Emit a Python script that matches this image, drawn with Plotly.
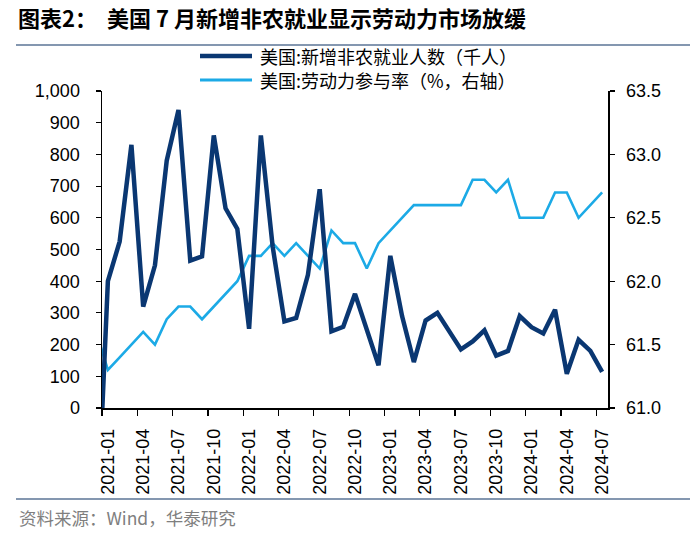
import plotly.graph_objects as go

# ---------------- data ----------------
months = ["2020-12"] + [f"{y}-{m:02d}" for y in range(2021, 2025) for m in range(1, 13)]
months = months[:44]  # 2020-12 ... 2024-07

payrolls = [-450,
            400, 525, 830, 320, 450, 780, 940, 465, 478, 860, 630, 565,
            250, 860, 510, 273, 284, 420, 690, 242, 256, 360, 250, 135,
            480, 290, 145, 276, 300, 240, 185, 210, 245, 165, 180, 290,
            255, 235, 310, 108, 215, 180, 114]

lfpr = [61.6,
        61.3, 61.4, 61.5, 61.6, 61.5, 61.7, 61.8, 61.8, 61.7, 61.8, 61.9, 62.0,
        62.2, 62.2, 62.3, 62.2, 62.3, 62.2, 62.1, 62.4, 62.3, 62.3, 62.1, 62.3,
        62.4, 62.5, 62.6, 62.6, 62.6, 62.6, 62.6, 62.8, 62.8, 62.7, 62.8, 62.5,
        62.5, 62.5, 62.7, 62.7, 62.5, 62.6, 62.7]

tick_labels = months[1::3]
tick_pos = [months.index(t) - 1 for t in tick_labels]
boundaries = [p - 0.5 for p in tick_pos]

name_pay = "美国:新增非农就业人数（千人）"
name_lfpr = "美国:劳动力参与率（%，右轴）"
title_text = "图表2：  美国 7 月新增非农就业显示劳动力市场放缓"
source_text = "资料来源：Wind，华泰研究"

DARK = "#0A3772"
LIGHT = "#1CAAE6"

x = [i - 1 for i in range(len(months))]

# ---------------- figure ----------------
W, H = 700, 535
L, R, T, B = 102, 92, 91, 127
PW, PH = W - L - R, H - T - B

def px_x(p):
    return (p - L) / PW

def px_y(p):
    return (H - B - p) / PH

fig = go.Figure()
fig.add_trace(go.Scatter(x=x, y=lfpr, mode="lines", name=name_lfpr,
                         line=dict(color=LIGHT, width=2.6), yaxis="y",
                         showlegend=False, hoverinfo="skip"))
fig.add_trace(go.Scatter(x=x, y=payrolls, mode="lines", name=name_pay,
                         line=dict(color=DARK, width=4.5), yaxis="y2",
                         showlegend=False, hoverinfo="skip"))

axis_font = dict(family="Liberation Sans, Arial, sans-serif", size=18, color="#000000")

fig.update_layout(
    width=W, height=H,
    margin=dict(l=L, r=R, t=T, b=B),
    paper_bgcolor="white", plot_bgcolor="white",
    font=dict(family="Liberation Sans, Noto Sans CJK SC, sans-serif", color="#000"),
    title=dict(text=title_text, x=18 / W, xanchor="left", y=1 - 19 / H, yanchor="middle",
               font=dict(family="Noto Sans CJK SC", size=22, color="#000", weight="bold")),
    xaxis=dict(range=[-0.5, 42.5], tickmode="array", tickvals=tick_pos, ticktext=tick_labels,
               tickangle=-90, ticks="", showgrid=False, zeroline=False,
               showline=True, linecolor="#000", linewidth=1.5,
               tickfont=axis_font, ticklabelstandoff=12,
               minor=dict(tickmode="array", tickvals=boundaries, ticks="outside",
                          ticklen=6, tickwidth=1.2, tickcolor="#000", showgrid=False)),
    yaxis=dict(range=[61.0, 63.5], tickmode="array",
               tickvals=[61.0, 61.5, 62.0, 62.5, 63.0, 63.5],
               tickformat=".1f", side="right", ticks="outside", ticklen=5,
               tickwidth=1.2, tickcolor="#000", showgrid=False, zeroline=False,
               showline=True, linecolor="#000", linewidth=1.5,
               tickfont=axis_font, ticklabelstandoff=8),
    yaxis2=dict(range=[0, 1000], tickmode="array", tickvals=list(range(0, 1001, 100)),
                tickformat=",d", side="left", overlaying="y", ticks="outside",
                ticklen=5, tickwidth=1.2, tickcolor="#000", showgrid=False,
                zeroline=False, showline=True, linecolor="#000", linewidth=1.5,
                tickfont=axis_font, ticklabelstandoff=12),
)

# header / footer rules
fig.add_shape(type="line", xref="paper", yref="paper",
              x0=px_x(16), x1=px_x(690), y0=px_y(45), y1=px_y(45),
              line=dict(color="#8497B0", width=2))
fig.add_shape(type="line", xref="paper", yref="paper",
              x0=px_x(16), x1=px_x(690), y0=px_y(499), y1=px_y(499),
              line=dict(color="#8497B0", width=2))

fig.add_annotation(xref="paper", yref="paper", x=px_x(17), y=px_y(517),
                   xanchor="left", yanchor="middle", showarrow=False,
                   text=source_text,
                   font=dict(family="Noto Sans CJK SC", size=17.5, color="#7F7F7F"))

# legend (drawn manually)
for yy, col, wd, nm in [(56, DARK, 4.5, name_pay), (80, LIGHT, 3, name_lfpr)]:
    fig.add_shape(type="line", xref="paper", yref="paper",
                  x0=px_x(200), x1=px_x(252), y0=px_y(yy), y1=px_y(yy),
                  line=dict(color=col, width=wd))
    fig.add_annotation(xref="paper", yref="paper", x=px_x(258), y=px_y(yy),
                       xanchor="left", yanchor="middle", showarrow=False, text=nm,
                       font=dict(family="Noto Sans CJK SC", size=18, color="#000"))

fig.write_html("out.html",
               config={"displayModeBar": False, "staticPlot": True},
               post_script="document.body.style.margin='0px';document.body.style.overflow='hidden';")
